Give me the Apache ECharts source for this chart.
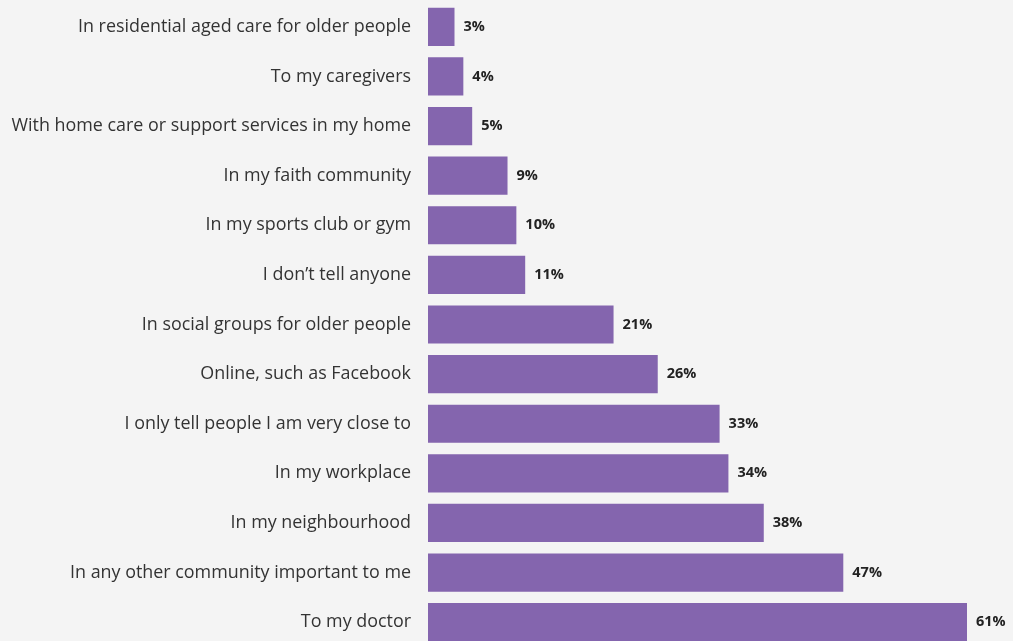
<!DOCTYPE html>
<html>
<head>
<meta charset="utf-8">
<script src="https://cdn.jsdelivr.net/npm/echarts@6/dist/echarts.min.js"></script>
<style>
  html, body { margin: 0; padding: 0; background: #f4f4f4; overflow: hidden; }
  #chart { width: 1013px; height: 641px; }
</style>
</head>
<body>
<div id="chart"></div>
<script>
// Where people say they talk about it, share of respondents (%)
const categories = [
  'In residential aged care for older people',
  'To my caregivers',
  'With home care or support services in my home',
  'In my faith community',
  'In my sports club or gym',
  'I don\u2019t tell anyone',
  'In social groups for older people',
  'Online, such as Facebook',
  'I only tell people I am very close to',
  'In my workplace',
  'In my neighbourhood',
  'In any other community important to me',
  'To my doctor'
];
const values = [3, 4, 5, 9, 10, 11, 21, 26, 33, 34, 38, 47, 61];

const chart = echarts.init(document.getElementById('chart'), null, { renderer: 'canvas' });
chart.setOption({
  backgroundColor: '#f4f4f4',
  animation: false,
  grid: {
    left: 428, right: 46, top: 2, bottom: -6,
    containLabel: false,
    outerBoundsMode: 'none'
  },
  xAxis: {
    type: 'value', min: 0, max: 61, show: false
  },
  yAxis: {
    type: 'category',
    data: categories,
    inverse: true,
    axisLine: { show: false },
    axisTick: { show: false },
    axisLabel: {
      margin: 17,
      color: '#333333',
      fontSize: 17.9,
      fontFamily: '"Open Sans", sans-serif'
    }
  },
  series: [{
    type: 'bar',
    data: values,
    barCategoryGap: '23%',
    itemStyle: { color: '#8465ae' },
    label: {
      show: true,
      position: 'right',
      distance: 9,
      formatter: '{c}%',
      color: '#222222',
      fontWeight: 'bold',
      fontSize: 14.5,
      fontFamily: '"Open Sans", sans-serif'
    }
  }]
});
</script>
</body>
</html>
